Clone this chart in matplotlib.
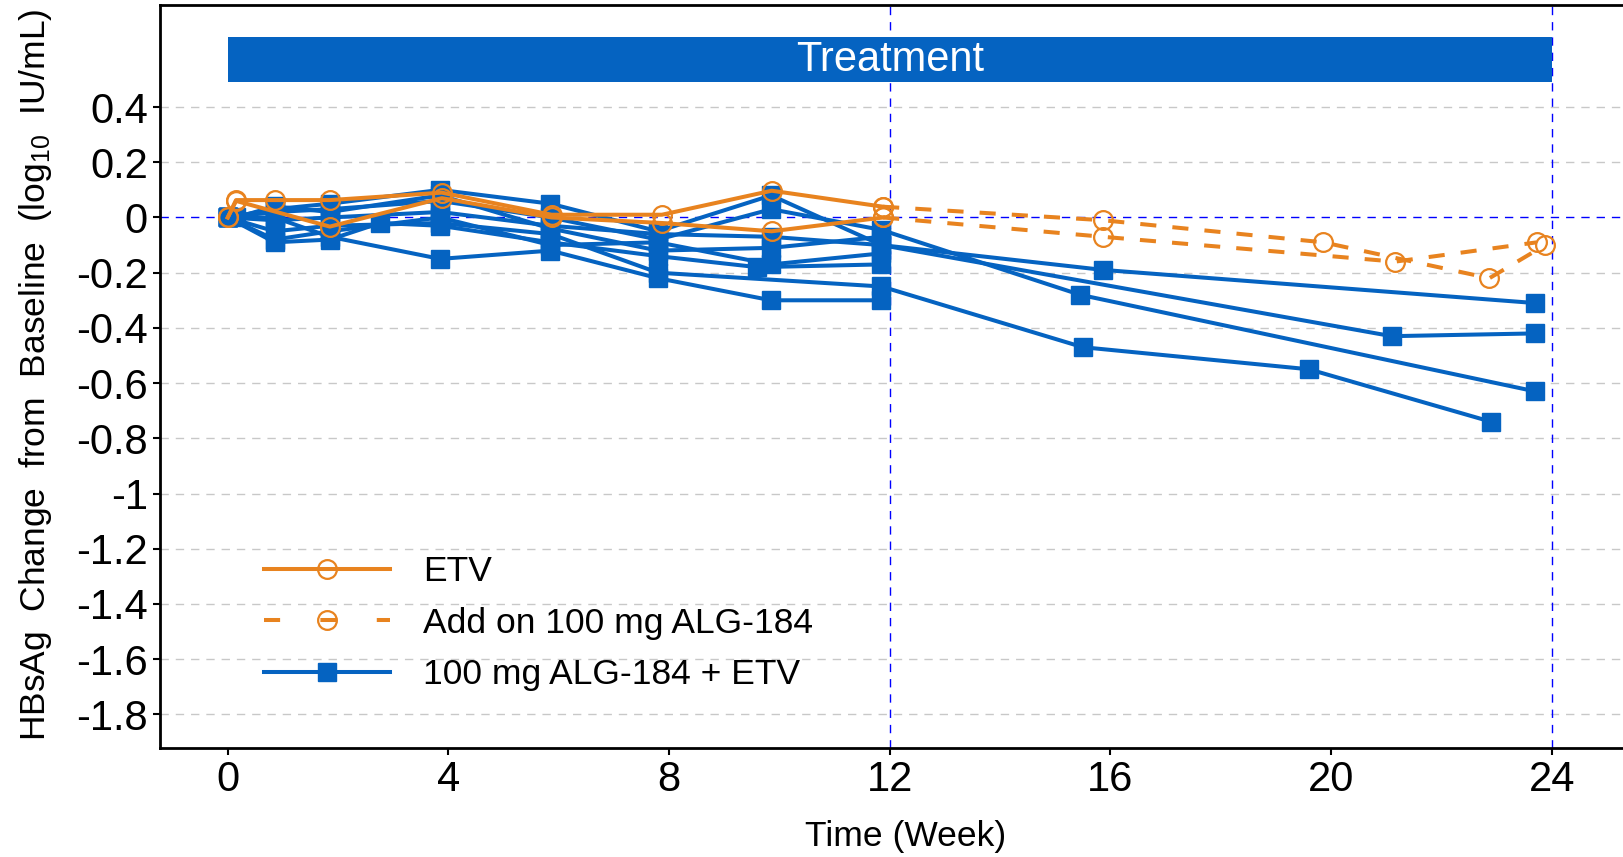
import matplotlib
matplotlib.use("Agg")
import matplotlib.pyplot as plt
from matplotlib.lines import Line2D
from matplotlib.patches import Rectangle

plt.rcParams['font.family'] = ['Liberation Sans', 'DejaVu Sans']
plt.rcParams['mathtext.default'] = 'regular'

BLUE = '#0563C1'
ORANGE = '#E8831F'
REF = '#0000FF'

# ---- data: blue subjects (100 mg ALG-184 + ETV) ----
blue_t1 = [0, 0.85, 1.85, 3.85, 5.85, 7.8, 9.85, 11.85, 15.87, 23.7]
blue_v1 = [0, 0.03, 0.05, 0.10, 0.05, -0.05, 0.08, -0.10, -0.19, -0.31]
blue_t2 = [0, 0.85, 1.85, 3.85, 5.85, 7.8, 9.85, 11.85, 15.45, 23.7]
blue_v2 = [0, 0.02, 0.03, 0.06, 0.0, -0.08, 0.03, -0.045, -0.28, -0.63]
blue_t3 = [0, 0.85, 1.85, 3.85, 5.85, 7.8, 9.85, 11.85, 21.1, 23.7]
blue_v3 = [0, -0.01, 0.0, 0.02, -0.03, -0.06, -0.07, -0.10, -0.43, -0.42]
blue_t4 = [0, 0.85, 1.85, 3.85, 5.85, 7.8, 11.85, 15.5, 19.6, 22.9]
blue_v4 = [0, -0.05, -0.03, -0.02, -0.06, -0.20, -0.25, -0.47, -0.55, -0.74]
blue_t5 = [0, 0.85, 1.85, 2.76, 3.85, 5.85, 7.8, 9.6, 11.85]
blue_v5 = [0, -0.09, -0.08, -0.02, -0.03, -0.09, -0.14, -0.18, -0.17]
blue_t6 = [0, 0.85, 1.85, 3.85, 5.85, 7.8, 9.85, 11.85]
blue_v6 = [0, 0.0, -0.07, -0.15, -0.12, -0.22, -0.30, -0.30]
blue_t7 = [0, 0.15, 0.85, 1.85, 3.85, 5.85, 7.8, 9.85, 11.85]
blue_v7 = [0, 0.0, 0.04, 0.02, 0.08, -0.04, -0.12, -0.11, -0.07]
blue_t8 = [0, 0.85, 1.85, 3.85, 5.85, 7.8, 9.85, 11.85]
blue_v8 = [0, -0.08, -0.05, 0.0, -0.10, -0.09, -0.17, -0.13]

# ---- data: orange subjects (ETV, then add-on) ----
etv_t1 = [0, 0.15, 0.85, 1.85, 3.88, 5.87, 7.87, 9.86, 11.88]
etv_v1 = [0, 0.063, 0.063, 0.063, 0.09, 0.01, 0.01, 0.097, 0.039]
etv_t2 = [0, 0.15, 1.85, 3.88, 5.87, 7.87, 9.86, 11.88]
etv_v2 = [0, 0.06, -0.033, 0.07, 0.0, -0.02, -0.05, 0.0]
add_t1 = [11.88, 15.87, 19.86, 22.87, 23.88]
add_v1 = [0.039, -0.01, -0.09, -0.22, -0.10]
add_t2 = [11.88, 15.87, 21.16, 23.73]
add_v2 = [0.0, -0.07, -0.16, -0.09]

blue_series = [(blue_t1, blue_v1), (blue_t2, blue_v2), (blue_t3, blue_v3),
               (blue_t4, blue_v4), (blue_t5, blue_v5), (blue_t6, blue_v6),
               (blue_t7, blue_v7), (blue_t8, blue_v8)]
etv_series = [(etv_t1, etv_v1), (etv_t2, etv_v2)]
add_series = [(add_t1, add_v1), (add_t2, add_v2)]

yticks = [0.4, 0.2, 0, -0.2, -0.4, -0.6, -0.8, -1, -1.2, -1.4, -1.6, -1.8]
ytick_labels = ['0.4', '0.2', '0', '-0.2', '-0.4', '-0.6', '-0.8', '-1', '-1.2', '-1.4', '-1.6', '-1.8']
xticks = [0, 4, 8, 12, 16, 20, 24]
legend_labels = ['ETV', 'Add on 100 mg ALG-184', '100 mg ALG-184 + ETV']

fig = plt.figure(figsize=(16.24, 8.57), dpi=100)
ax = fig.add_axes([0.0988, 0.1272, 0.9012, 0.8667])
ax.set_xlim(-1.22, 25.31)
ax.set_ylim(-1.922, 0.769)

# grid
for y in yticks:
    if y == 0:
        continue
    ax.axhline(y, color='#C8C8C8', lw=1.0, ls=(0, (6, 5)), zorder=1)
ax.axhline(0, color=REF, lw=1.0, ls=(0, (6, 5)), zorder=1)
for x in (12, 24):
    ax.axvline(x, color=REF, lw=1.0, ls=(0, (6, 5)), zorder=1)

ms = 13.5
lw = 2.9
for t, v in blue_series:
    ax.plot(t, v, color=BLUE, lw=lw, marker='s', ms=ms, mfc=BLUE, mec=BLUE, zorder=3)
for t, v in etv_series:
    ax.plot(t, v, color=ORANGE, lw=lw, marker='o', ms=ms, mfc='none', mec=ORANGE, mew=1.6, zorder=4)
for t, v in add_series:
    ax.plot(t, v, color=ORANGE, lw=lw, ls=(0, (4, 4)), marker='o', ms=ms, mfc='none',
            mec=ORANGE, mew=1.6, zorder=4)

# treatment bar
ax.add_patch(Rectangle((0, 0.49), 24, 0.163, facecolor=BLUE, edgecolor='none', zorder=2))
ax.text(12, 0.571, 'Treatment', color='white', fontsize=30, ha='center', va='center', zorder=5)

ax.set_yticks(yticks)
ax.set_yticklabels(ytick_labels)
ax.set_xticks(xticks)
ax.tick_params(axis='both', labelsize=30, length=5, width=1.5, direction='out', pad=4)
ax.spines['right'].set_visible(False)
for s in ('left', 'bottom', 'top'):
    ax.spines[s].set_linewidth(2.0)

ax.set_xlabel('Time (Week)', fontsize=25.5)
ax.xaxis.set_label_coords(0.509, -0.097)
fig.text(36 / 1624, 0.5624, 'HBsAg  Change  from  Baseline  (log$_{10}$  IU/mL)',
         rotation=90, ha='center', va='center', fontsize=25.5)

handles = [
    Line2D([], [], color=ORANGE, lw=lw, marker='o', ms=ms, mfc='none', mec=ORANGE, mew=1.6),
    Line2D([], [], color=ORANGE, lw=lw, ls=(0, (4.0, 10.0)), marker='o', ms=ms, mfc='none', mec=ORANGE, mew=1.6),
    Line2D([], [], color=BLUE, lw=lw, marker='s', ms=ms, mfc=BLUE, mec=BLUE),
]
ax.legend(handles, legend_labels, loc='center left', bbox_to_anchor=(0.0707, 0.168),
          frameon=False, fontsize=25.5, handlelength=3.55, handletextpad=0.95,
          labelspacing=0.52, borderaxespad=0, borderpad=0)

fig.savefig('out.png', dpi=100)
